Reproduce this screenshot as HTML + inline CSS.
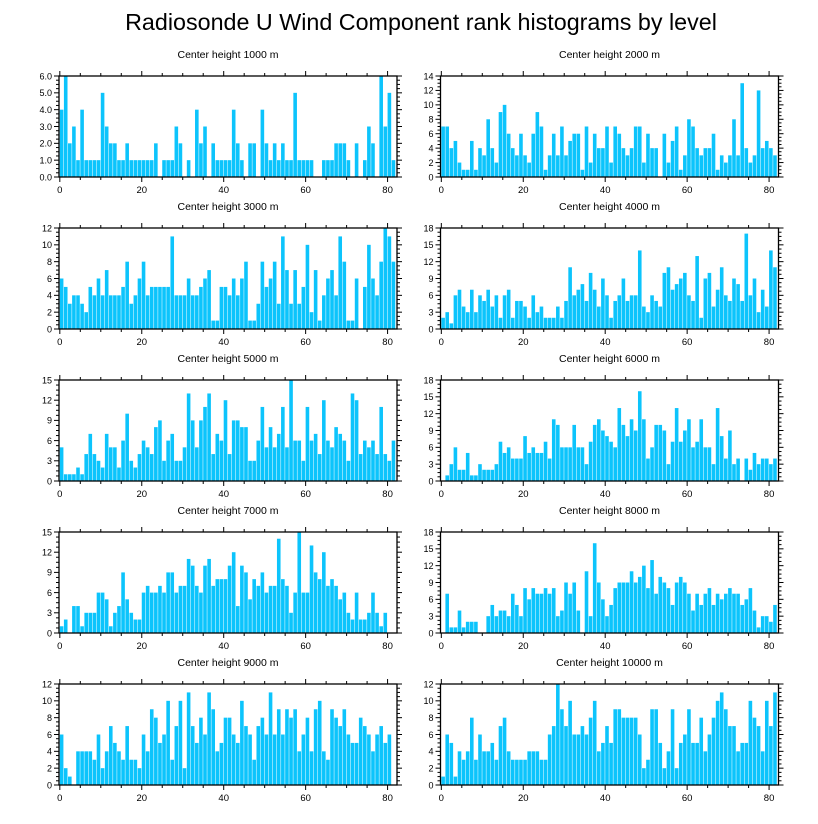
<!DOCTYPE html>
<html><head><meta charset="utf-8">
<style>
html,body{margin:0;padding:0;background:#fff;}
svg{display:block;font-family:"Liberation Sans",Arial,sans-serif;}
</style></head>
<body>
<svg id="chart" width="818" height="824" viewBox="0 0 818 824" xmlns="http://www.w3.org/2000/svg">
<rect x="0" y="0" width="818" height="824" fill="#fff"/>
<text x="421" y="30" font-size="23.3" text-anchor="middle" fill="#000">Radiosonde U Wind Component rank histograms by level</text>
</svg>
<script>
const panelTitles = ["Center height 1000 m","Center height 2000 m","Center height 3000 m","Center height 4000 m","Center height 5000 m","Center height 6000 m","Center height 7000 m","Center height 8000 m","Center height 9000 m","Center height 10000 m"];
const yMax = [6,14,12,18,15,18,15,18,12,12];
const yStep = [1,2,2,3,3,3,3,3,2,2];
const xTicks = [0,20,40,60,80];
const counts1000 = [4,6,2,3,1,4,1,1,1,1,5,3,2,2,1,1,2,1,1,1,1,1,1,2,0,1,1,1,3,2,0,1,0,4,2,3,0,2,1,1,1,1,4,2,1,0,2,2,0,4,2,1,2,1,2,1,1,5,1,1,1,1,0,0,1,1,1,2,2,2,1,0,2,0,1,3,2,0,6,3,5,1];
const counts2000 = [7,7,4,5,2,1,1,5,1,4,3,8,4,2,9,10,6,4,3,6,3,2,6,9,7,1,3,6,3,7,3,5,6,6,1,7,2,6,4,4,7,2,7,6,4,3,4,7,7,2,6,4,4,0,6,2,5,7,1,3,8,7,4,3,4,4,6,1,3,2,3,8,3,13,4,2,3,12,4,5,4,3];
const counts3000 = [6,5,3,4,4,3,2,5,4,6,4,7,4,4,4,5,8,3,4,6,8,4,5,5,5,5,5,11,4,4,4,6,4,4,5,6,7,1,1,5,5,4,6,4,6,8,1,1,3,8,5,6,8,3,11,7,3,7,3,5,10,2,7,1,4,6,7,4,11,8,1,1,6,0,5,10,6,4,8,12,11,8];
const counts4000 = [2,3,1,6,7,4,3,7,3,6,5,7,4,6,2,6,7,2,5,5,4,2,6,3,4,2,2,2,4,2,5,11,6,7,8,5,10,7,4,9,6,2,5,6,9,5,6,6,14,4,3,6,5,4,10,11,7,8,9,10,6,5,13,2,9,10,4,7,11,6,5,9,8,5,17,6,9,3,7,4,14,11];
const counts5000 = [5,1,1,1,2,1,4,7,4,3,2,7,5,5,2,6,10,3,2,4,6,5,4,8,9,3,6,7,3,3,5,13,9,5,9,11,13,4,7,6,12,4,9,9,8,8,3,3,6,11,5,8,5,7,11,5,15,6,6,3,11,6,7,4,12,6,5,8,7,6,3,13,12,4,6,5,6,4,11,4,3,6];
const counts6000 = [0,1,3,6,2,2,5,1,1,3,2,2,2,3,7,5,6,4,4,4,8,5,6,5,5,7,4,11,10,6,6,6,10,6,6,3,7,10,11,9,8,7,6,13,10,8,11,9,16,11,4,6,10,10,9,3,7,13,7,9,11,6,7,11,6,6,3,13,8,4,9,3,4,0,4,2,5,3,4,4,3,4];
const counts7000 = [1,2,0,4,4,1,3,3,3,6,6,5,1,3,4,9,5,3,2,2,6,7,6,6,7,6,9,9,6,7,7,11,10,7,6,10,11,7,8,8,8,10,12,4,10,9,5,8,7,9,6,7,7,14,8,7,3,6,15,6,6,13,9,8,12,7,8,7,5,6,3,2,6,2,2,3,6,3,1,3];
const counts8000 = [0,7,1,1,4,1,2,2,2,0,0,3,5,3,4,4,3,7,5,3,8,6,8,7,7,8,7,8,3,4,9,7,9,4,0,11,3,16,9,6,3,5,8,9,9,9,11,9,10,12,8,13,7,10,9,8,5,9,10,9,7,4,7,5,7,8,5,7,6,7,8,7,7,5,6,8,4,1,3,3,2,5];
const counts9000 = [6,2,1,0,4,4,4,4,3,6,2,4,7,5,4,3,7,3,3,2,6,4,9,8,5,6,10,3,7,10,2,11,7,5,8,6,11,9,4,5,8,8,6,5,10,7,6,3,7,8,6,11,6,9,6,9,8,9,4,6,8,4,9,10,4,3,9,8,7,9,6,5,5,8,7,6,4,6,7,5,6];
const counts10000 = [1,6,5,1,4,3,4,8,3,6,4,4,5,3,7,8,4,3,3,3,3,4,4,4,3,3,6,7,12,9,7,10,6,6,7,6,8,10,4,5,7,5,9,9,8,8,8,8,6,2,3,9,9,5,2,4,9,2,5,6,9,5,5,8,4,6,8,10,11,9,7,7,4,5,5,10,8,7,4,10,7,11];
const allCounts = [counts1000,counts2000,counts3000,counts4000,counts5000,counts6000,counts7000,counts8000,counts9000,counts10000];

const NS = "http://www.w3.org/2000/svg";
const svg = document.getElementById("chart");
const X_MIN = -0.2, X_MAX = 82.3;
const PW = 338, PH = 101;
const lefts = [59, 440.5];
const tops = [76, 228, 380, 532, 684];

function mk(tag, attrs, parent){
  const e = document.createElementNS(NS, tag);
  for (const k in attrs) e.setAttribute(k, attrs[k]);
  parent.appendChild(e);
  return e;
}

allCounts.forEach((counts, p) => {
  const col = p % 2, row = Math.floor(p / 2);
  const L = lefts[col], T = tops[row], B = T + PH, R = L + PW;
  const xs = v => L + (v - X_MIN) / (X_MAX - X_MIN) * PW;
  const ys = v => B - v / yMax[p] * PH;
  const g = mk("g", {}, svg);
  
  

  const title = mk("text", {x: (L + R) / 2, y: T - 18, "font-size": 10.5, "text-anchor": "middle", fill: "#000"}, g);
  
  
  title.textContent = panelTitles[p];

  counts.forEach((c, i) => {
    if (c <= 0) return;
    const x0 = xs(i), x1 = xs(i + 1);
    const r = mk("rect", {x: x0, y: ys(c), width: Math.max(0.5, x1 - x0 - 0.5), height: B - ys(c), fill: "#0cc4fc"}, g);
    
    
  });

  const frame = mk("rect", {x: L, y: T, width: PW, height: PH, fill: "none", stroke: "#000", "stroke-width": 1.3}, g);
  
  

  for (let v = 0; v <= 80; v += 5) {
    const major = v % 20 === 0;
    const len = major ? 5 : 3;
    const x = xs(v);
    mk("line", {x1: x, y1: B, x2: x, y2: B + len, stroke: "#000", "stroke-width": 1}, g);
    mk("line", {x1: x, y1: T, x2: x, y2: T - len, stroke: "#000", "stroke-width": 1}, g);
  }
  xTicks.forEach(v => {
    const t = mk("text", {x: xs(v), y: B + 16, "font-size": 9.5, "text-anchor": "middle", fill: "#000"}, g);
    
    
    t.textContent = v;
  });
  const st = yStep[p], minorN = 4;
  for (let v = 0; v <= yMax[p] + 1e-9; v += st / minorN) {
    const major = Math.abs(Math.round(v / st) * st - v) < 1e-6;
    const len = major ? 5 : 3;
    const y = ys(v);
    mk("line", {x1: L, y1: y, x2: L - len, y2: y, stroke: "#000", "stroke-width": 1}, g);
    mk("line", {x1: R, y1: y, x2: R + len, y2: y, stroke: "#000", "stroke-width": 1}, g);
  }
  for (let v = 0; v <= yMax[p] + 1e-9; v += st) {
    const t = mk("text", {x: L - 7, y: ys(v) + 3.3, "font-size": 9, "text-anchor": "end", fill: "#000"}, g);
    
    
    t.textContent = p === 0 ? v.toFixed(1) : String(v);
  }
});
</script>
</body></html>
